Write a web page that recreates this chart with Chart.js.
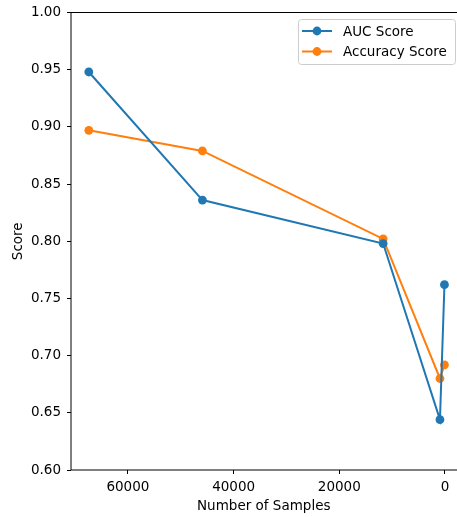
<!DOCTYPE html>
<html>
<head>
<meta charset="utf-8">
<script src="https://cdn.jsdelivr.net/npm/chart.js@4/dist/chart.umd.min.js"></script>
<style>
  html, body { margin: 0; padding: 0; background: #fff; }
  #wrap { width: 457px; height: 517px; }
</style>
</head>
<body>
<div id="wrap"><canvas id="myChart" width="457" height="517"></canvas></div>
<script>
// values
var samples = [67400, 45900, 11700, 950, 100];
var aucScore = [0.948, 0.836, 0.798, 0.644, 0.762];
var accuracyScore = [0.897, 0.879, 0.802, 0.680, 0.692];
var xTicks = [0, 20000, 40000, 60000];

var blue = "#1f77b4";
var orange = "#ff7f0e";
var font = { family: "DejaVu Sans", size: 13.5 };

function points(ys) {
  return samples.map(function (x, i) { return { x: x, y: ys[i] }; });
}

// box round the plot (right side is cut off in the original) + legend
var frame = {
  id: "frame",
  afterDraw: function (chart) {
    var c = chart.ctx, a = chart.chartArea;
    c.save();
    c.strokeStyle = "#000";
    c.lineWidth = 1;
    c.beginPath();
    c.moveTo(chart.width, a.top);
    c.lineTo(a.left, a.top);
    c.lineTo(a.left, a.bottom);
    c.lineTo(chart.width, a.bottom);
    c.stroke();

    var bx = 298.5, by = 19.5, bw = 157, bh = 45;
    c.fillStyle = "rgba(255,255,255,0.8)";
    c.strokeStyle = "#cccccc";
    c.beginPath();
    c.roundRect(bx, by, bw, bh, 3);
    c.fill();
    c.stroke();

    c.font = font.size + "px " + font.family;
    c.textBaseline = "middle";
    chart.data.datasets.forEach(function (ds, i) {
      var y = 31 + i * 20.5;
      c.strokeStyle = ds.borderColor;
      c.lineWidth = 2;
      c.beginPath();
      c.moveTo(302, y);
      c.lineTo(332, y);
      c.stroke();
      c.fillStyle = ds.borderColor;
      c.beginPath();
      c.arc(317, y, 4.4, 0, Math.PI * 2);
      c.fill();
      c.fillStyle = "#000";
      c.fillText(ds.label, 343, y + 1);
    });
    c.restore();
  }
};

var ctx = document.getElementById("myChart").getContext("2d");
var chart = new Chart(ctx, {
  type: "line",
  data: {
    datasets: [
      {
        label: "AUC Score",
        data: points(aucScore),
        borderColor: blue,
        backgroundColor: blue,
        borderWidth: 2,
        pointRadius: 4.4,
        pointBorderWidth: 0
      },
      {
        label: "Accuracy Score",
        data: points(accuracyScore),
        borderColor: orange,
        backgroundColor: orange,
        borderWidth: 2,
        pointRadius: 4.4,
        pointBorderWidth: 0
      }
    ]
  },
  options: {
    responsive: false,
    animation: false,
    layout: { autoPadding: false, padding: { top: 12.5, right: 0.5, bottom: 0, left: 0 } },
    plugins: {
      legend: { display: false },
      tooltip: { enabled: false }
    },
    scales: {
      x: {
        type: "linear",
        reverse: true,
        min: -2180,
        max: 70770,
        afterBuildTicks: function (axis) {
          axis.ticks = xTicks.map(function (v) { return { value: v }; });
        },
        afterFit: function (axis) {
          axis.height = 47;
          axis.paddingLeft = 0;
          axis.paddingRight = 0;
        },
        grid: { drawOnChartArea: false, drawTicks: true, tickLength: 4, tickColor: "#000" },
        border: { display: false },
        ticks: { color: "#000", font: font, padding: 5, maxRotation: 0, callback: function (v) { return String(v); } },
        title: { display: true, text: "Number of Samples", color: "#000", font: font, padding: { top: 0, bottom: 2 } }
      },
      y: {
        min: 0.6,
        max: 1.0,
        afterFit: function (axis) {
          axis.width = 71;
          axis.paddingTop = 0;
          axis.paddingBottom = 0;
        },
        grid: { drawOnChartArea: false, drawTicks: true, tickLength: 4, tickColor: "#000" },
        border: { display: false },
        ticks: { stepSize: 0.05, color: "#000", font: font, padding: 6, callback: function (v) { return v.toFixed(2); } },
        title: { display: true, text: "Score", color: "#000", font: font, padding: { top: 10, bottom: 0 } }
      }
    }
  },
  plugins: [frame]
});
</script>
</body>
</html>
